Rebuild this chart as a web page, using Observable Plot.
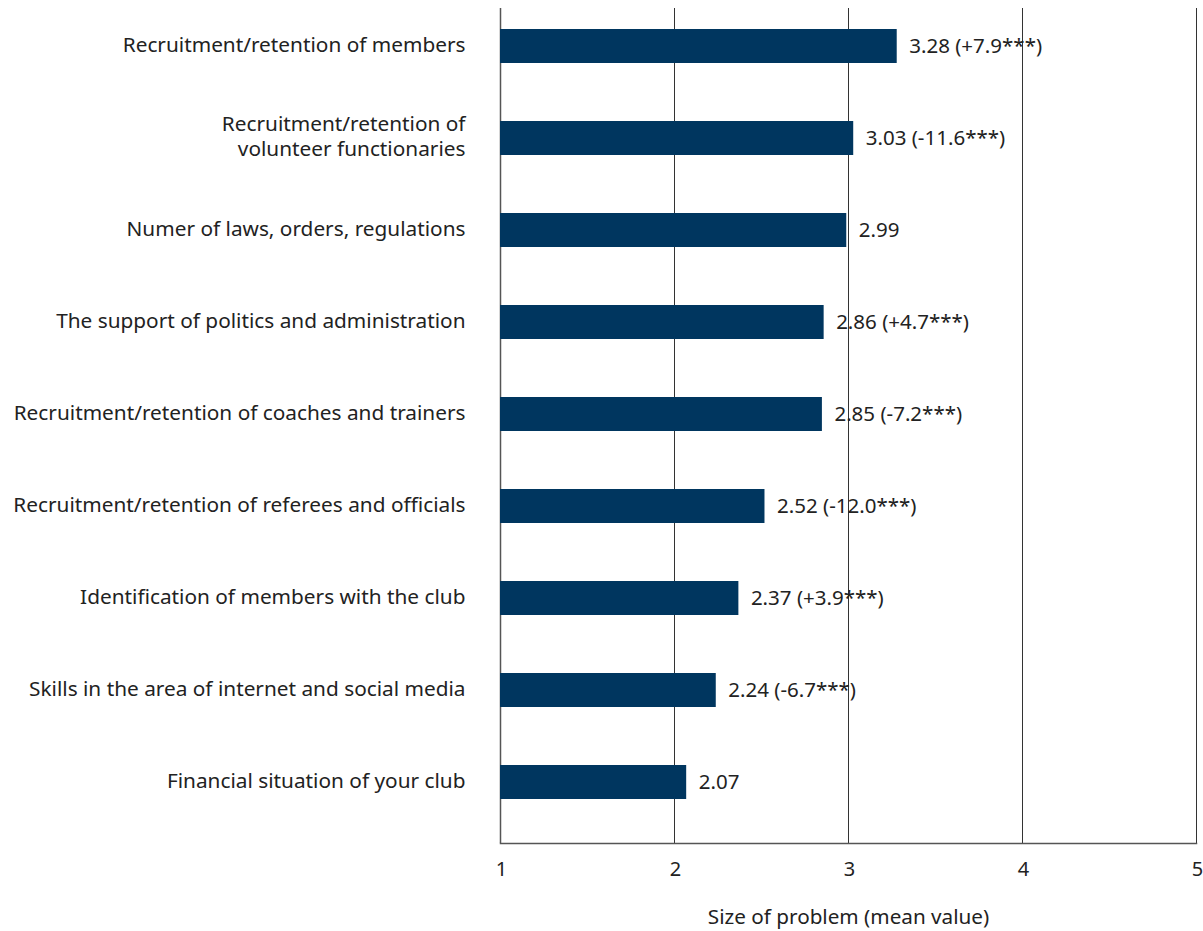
<!DOCTYPE html>
<html>
<head>
<meta charset="utf-8">
<script src="https://cdn.jsdelivr.net/npm/d3@7"></script>
<script src="https://cdn.jsdelivr.net/npm/@observablehq/plot@0.6"></script>
<style>
  html, body { margin: 0; padding: 0; background: #fff; }
  #chart svg { display: block; }
</style>
</head>
<body>
<div id="chart"></div>
<script>
const categories = [
  "Recruitment/retention of members",
  "Recruitment/retention of\nvolunteer functionaries",
  "Numer of laws, orders, regulations",
  "The support of politics and administration",
  "Recruitment/retention of coaches and trainers",
  "Recruitment/retention of referees and officials",
  "Identification of members with the club",
  "Skills in the area of internet and social media",
  "Financial situation of your club"
];
const values = [3.28, 3.03, 2.99, 2.86, 2.85, 2.52, 2.37, 2.24, 2.07];
const changes = ["+7.9***", "-11.6***", "", "+4.7***", "-7.2***", "-12.0***", "+3.9***", "-6.7***", ""];
const xTicks = [1, 2, 3, 4, 5];
const xLabel = "Size of problem (mean value)";

const data = categories.map((c, i) => ({
  category: c,
  value: values[i],
  label: values[i].toFixed(2) + (changes[i] ? " (" + changes[i] + ")" : "")
}));

const font = "'Noto Sans', 'Open Sans', sans-serif";
const textColor = "#222";

const chart = Plot.plot({
  width: 1203,
  height: 931,
  marginLeft: 500,
  marginRight: 7,
  marginTop: 8,
  marginBottom: 88,
  style: { fontFamily: font, background: "#fff", color: textColor },
  x: { domain: [1, 5], ticks: xTicks },
  y: { domain: categories, range: [0, 829], padding: 0.63, paddingOuter: 0.315, axis: null },
  marks: [
    Plot.ruleX(xTicks.slice(1), { stroke: "#333", strokeWidth: 1 }),
    Plot.ruleX([1], { stroke: "#555", strokeWidth: 1.5 }),
    Plot.frame({ anchor: "bottom", stroke: "#555", strokeWidth: 1.5 }),
    Plot.barX(data, { x1: 1, x2: "value", y: "category", fill: "#00365f" }),
    Plot.text(data, {
      x: "value", y: "category", text: "label", textAnchor: "start", dx: 12,
      fontSize: 20.5, fill: textColor
    }),
    Plot.text(data, {
      y: "category", text: "category", frameAnchor: "left", textAnchor: "end",
      dx: -35, dy: -3, fontSize: 20.8, fill: textColor, lineHeight: 1.2
    }),
    Plot.axisX({
      ticks: xTicks, tickSize: 0, tickPadding: 18, fontSize: 20, dx: 1,
      tickFormat: "d",
      label: xLabel, labelAnchor: "center", labelOffset: 80, labelArrow: "none"
    })
  ]
});

chart.querySelectorAll("g[aria-label='x-axis label'] text").forEach(t => {
  t.setAttribute("font-size", "20.7");
});
document.getElementById("chart").appendChild(chart);
</script>
</body>
</html>
